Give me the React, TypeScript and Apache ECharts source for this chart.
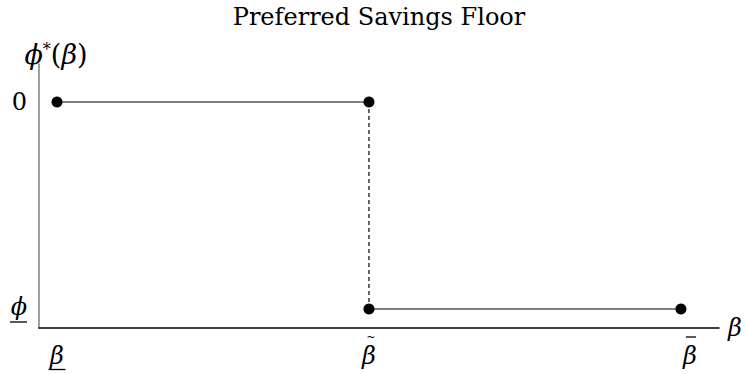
import React, { useEffect, useRef } from "react";
import * as echarts from "echarts";

const titleText = "Preferred Savings Floor";
const xTickValues = [0, 1, 2];
const xTickLabels = ["{sp| }\n{g|β}\n{ul| }", "{tl|~}\n{g|β}", "{bp| }{bar| }\n{gb|β}"];
const yTickValues = [-1, 0];
const yTickLabels = ["{g|ϕ}\n{ul| }", "{n|0}"];
const upperSegment = [[0, 0], [1, 0]];
const lowerSegment = [[1, -1], [2, -1]];
const jumpSegment = [[1, 0], [1, -1]];

const serif = "'DejaVu Serif', 'Liberation Serif', serif";

export default function App() {
  const ref = useRef<HTMLDivElement>(null);
  useEffect(() => {
    if (!ref.current) return;
    const chart = echarts.init(ref.current, undefined, { renderer: "svg" });
    const xLabel = (v: number) => {
      const i = xTickValues.indexOf(v);
      return i < 0 ? "" : xTickLabels[i];
    };
    const yLabel = (v: number) => {
      const i = yTickValues.indexOf(v);
      return i < 0 ? "" : yTickLabels[i];
    };
    const FS = 24;
    const greek = { fontFamily: serif, fontStyle: "italic", fontSize: FS, color: "#000" };
    const upright = { fontFamily: serif, fontStyle: "normal", fontSize: FS, color: "#000" };
    chart.setOption({
      animation: false,
      backgroundColor: "#ffffff",
      title: {
        text: titleText,
        left: 374,
        textAlign: "center",
        top: 0,
        textStyle: { fontFamily: serif, fontWeight: "normal", fontSize: 24, color: "#000" },
      },
      grid: { left: 39, right: 27, top: 64, bottom: 46, containLabel: false },
      xAxis: {
        type: "value",
        min: -0.0577,
        max: 2.122,
        name: "{g|β}",
        nameLocation: "end",
        nameGap: 9,
        nameTextStyle: { ...greek, verticalAlign: "middle", rich: { g: { ...greek } } },
        axisLine: { show: true, onZero: false, lineStyle: { color: "#000", width: 1.5 } },
        axisTick: { show: false },
        splitLine: { show: false },
        axisLabel: {
          customValues: xTickValues,
          formatter: xLabel,
          margin: 2,
          ...greek,
          rich: {
            sp: { fontSize: 1, lineHeight: 14 },
            g: { ...greek, lineHeight: 24 },
            gb: { ...greek, lineHeight: 24, padding: [0, 0, 0, 18] },
            ul: { width: 17, height: 1.3, lineHeight: 3, backgroundColor: "#000", fontSize: 1 },
            tl: { fontFamily: serif, fontSize: 11, lineHeight: 14, color: "#000", padding: [0, 0, 0, 4] },
            bp: { width: 20, height: 1, fontSize: 1, lineHeight: 14 },
            bar: { width: 10, height: 1.3, lineHeight: 14, backgroundColor: "#000", fontSize: 1 },
          },
        },
      },
      yAxis: {
        type: "value",
        min: -1.0918,
        max: 0.1836,
        name: "{g|ϕ}{s|*}{n|(}{g|β}{n|)}",
        nameLocation: "end",
        nameGap: -4,
        nameTextStyle: {
          ...greek,
          align: "center",
          padding: [0, 0, 0, 34],
          rich: {
            g: { ...greek, fontSize: 27 },
            n: { ...upright, fontSize: 27 },
            s: { ...upright, fontSize: 16, verticalAlign: "top", padding: [0, 0, 10, 0] },
          },
        },
        axisLine: { show: true, onZero: false, lineStyle: { color: "#808080", width: 1.5 } },
        axisTick: { show: false },
        splitLine: { show: false },
        axisLabel: {
          customValues: yTickValues,
          formatter: yLabel,
          margin: 12,
          ...greek,
          rich: {
            g: { ...greek, lineHeight: 26 },
            ul: { width: 17, height: 1.3, lineHeight: 3, backgroundColor: "#000", fontSize: 1 },
            n: { ...upright, lineHeight: 24 },
          },
        },
      },
      series: [
        {
          type: "line",
          data: upperSegment,
          symbol: "circle",
          symbolSize: 11,
          itemStyle: { color: "#000" },
          lineStyle: { color: "#000", width: 1 },
        },
        {
          type: "line",
          data: lowerSegment,
          symbol: "circle",
          symbolSize: 11,
          itemStyle: { color: "#000" },
          lineStyle: { color: "#000", width: 1 },
        },
        {
          type: "line",
          data: jumpSegment,
          symbol: "none",
          z: 1,
          lineStyle: { color: "#000", width: 1.2, type: [4, 3] },
        },
      ],
    });
    return () => chart.dispose();
  }, []);
  return <div ref={ref} style={{ position: "fixed", left: 0, top: 0, width: 746, height: 374 }} />;
}
